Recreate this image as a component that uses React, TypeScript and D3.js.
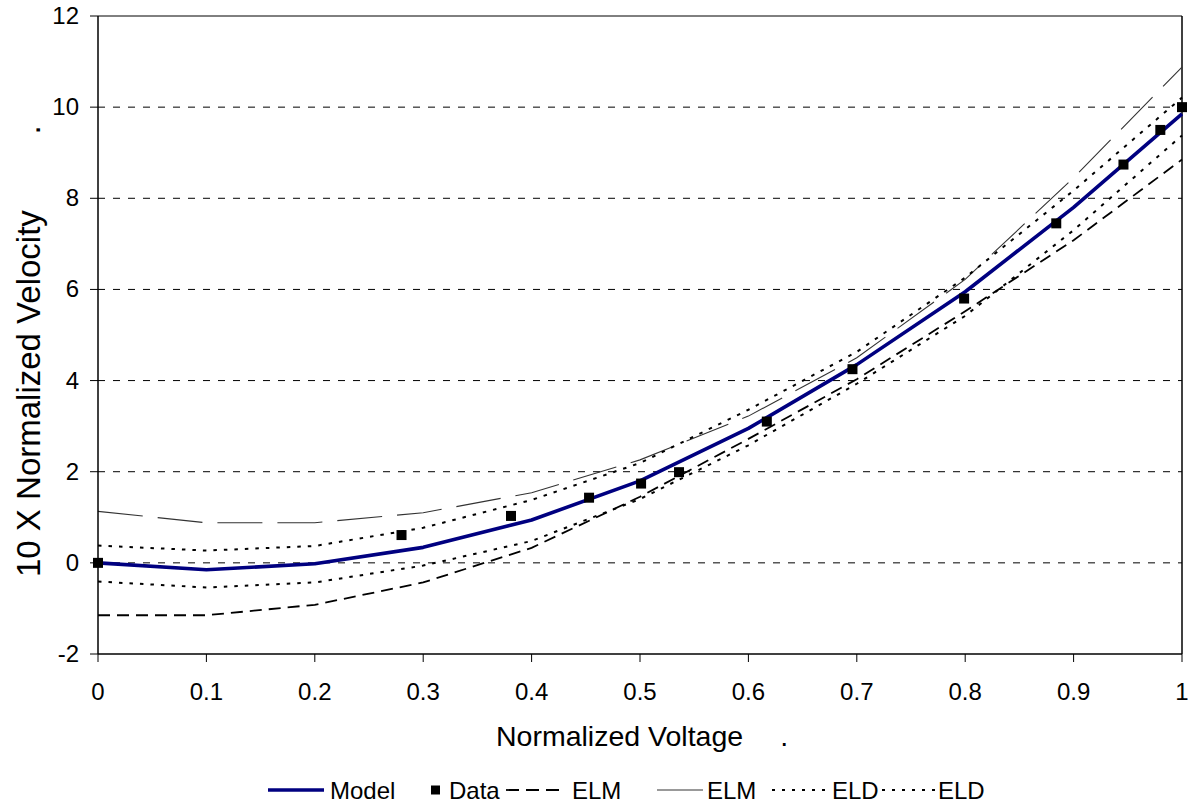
import React from "react";
import * as d3 from "d3";

const xValues = [0, 0.1, 0.2, 0.3, 0.4, 0.5, 0.6, 0.7, 0.8, 0.9, 1.0];
const model = [0, -0.15, -0.02, 0.34, 0.94, 1.8, 2.95, 4.35, 5.95, 7.8, 9.85];
const elmLower = [-1.15, -1.15, -0.92, -0.43, 0.33, 1.45, 2.72, 4.03, 5.52, 7.08, 8.85];
const elmUpper = [1.13, 0.88, 0.88, 1.1, 1.54, 2.26, 3.22, 4.5, 6.22, 8.45, 10.88];
const eldUpper = [0.38, 0.27, 0.37, 0.77, 1.38, 2.19, 3.36, 4.63, 6.26, 8.17, 10.21];
const eldLower = [-0.41, -0.54, -0.43, -0.06, 0.48, 1.4, 2.58, 3.93, 5.42, 7.3, 9.38];

const dataX = [0, 0.28, 0.381, 0.453, 0.501, 0.536, 0.617, 0.696, 0.799, 0.884, 0.946, 0.98, 1.0];
const dataY = [0, 0.61, 1.03, 1.43, 1.74, 1.99, 3.1, 4.25, 5.8, 7.45, 8.74, 9.5, 10.0];

const xTicks = [0, 0.1, 0.2, 0.3, 0.4, 0.5, 0.6, 0.7, 0.8, 0.9, 1];
const xTickLabels = ["0", "0.1", "0.2", "0.3", "0.4", "0.5", "0.6", "0.7", "0.8", "0.9", "1"];
const yTicks = [-2, 0, 2, 4, 6, 8, 10, 12];
const gridValues = [0, 2, 4, 6, 8, 10];

const xTitle = "Normalized Voltage";
const yTitle = "10 X Normalized Velocity";
const legendLabels = ["Model", "Data", "ELM", "ELM", "ELD", "ELD"];

const FONT = "'Liberation Sans', Arial, sans-serif";

export default function App() {
  const W = 1188;
  const H = 810;
  const x = d3.scaleLinear().domain([0, 1]).range([98, 1182]);
  const y = d3.scaleLinear().domain([-2, 12]).range([654, 16]);

  const line = d3
    .line<number>()
    .x((_, i) => x(xValues[i]))
    .y((d) => y(d));

  const legendY = 790;
  const ms = 10;

  return (
    <svg
      width={W}
      height={H}
      style={{ position: "absolute", left: 0, top: 0, background: "#fff" }}
      fontFamily={FONT}
    >
      <rect x={0} y={0} width={W} height={H} fill="#fff" />
      {gridValues.map((v) => (
        <line
          key={"g" + v}
          x1={x(0)}
          x2={x(1)}
          y1={y(v)}
          y2={y(v)}
          stroke="#000"
          strokeWidth={1}
          strokeDasharray="7,8"
        />
      ))}
      <line x1={x(0)} x2={x(1)} y1={y(12)} y2={y(12)} stroke="#000" strokeWidth={1} />
      <line x1={x(1)} x2={x(1)} y1={y(12)} y2={y(-2)} stroke="#000" strokeWidth={1.5} />

      <path d={line(elmUpper) || ""} fill="none" stroke="#333" strokeWidth={1.1} strokeDasharray="45,15" />
      <path d={line(elmLower) || ""} fill="none" stroke="#000" strokeWidth={1.8} strokeDasharray="12,7" />
      <path d={line(eldUpper) || ""} fill="none" stroke="#000" strokeWidth={2} strokeDasharray="3.5,7" />
      <path d={line(eldLower) || ""} fill="none" stroke="#000" strokeWidth={2} strokeDasharray="3.5,7" />
      <path d={line(model) || ""} fill="none" stroke="#000080" strokeWidth={3.6} strokeLinejoin="round" />

      {dataX.map((dx, i) => (
        <rect key={"d" + i} x={x(dx) - ms / 2} y={y(dataY[i]) - ms / 2} width={ms} height={ms} fill="#000" />
      ))}

      <line x1={x(0)} x2={x(0)} y1={y(12)} y2={y(-2)} stroke="#000" strokeWidth={1.5} />
      <line x1={x(0)} x2={x(1)} y1={y(-2)} y2={y(-2)} stroke="#000" strokeWidth={1.5} />
      {yTicks.map((v) => (
        <g key={"yt" + v}>
          <line x1={x(0) - 8} x2={x(0)} y1={y(v)} y2={y(v)} stroke="#000" strokeWidth={1} />
          <text x={79} y={y(v) + 8} fontSize={24} textAnchor="end" fill="#000">
            {v}
          </text>
        </g>
      ))}
      {xTicks.map((v, i) => (
        <g key={"xt" + v}>
          <line x1={x(v)} x2={x(v)} y1={y(-2)} y2={y(-2) + 8} stroke="#000" strokeWidth={1} />
          <text x={x(v)} y={700} fontSize={24} textAnchor="middle" fill="#000">
            {xTickLabels[i]}
          </text>
        </g>
      ))}

      <text x={496} y={746} fontSize={28.5} fill="#000">
        {xTitle}
        <tspan dx={37}>.</tspan>
      </text>
      <text transform="translate(40,577) rotate(-90)" x={0} y={0} fontSize={33} fill="#000">
        {yTitle}
        <tspan dx={78}>.</tspan>
      </text>

      <g fontSize={24} fill="#000">
        <line x1={268} x2={324} y1={legendY} y2={legendY} stroke="#000080" strokeWidth={3.5} />
        <text x={330} y={legendY + 9}>{legendLabels[0]}</text>
        <rect x={431} y={legendY - 4.5} width={9} height={9} fill="#000" />
        <text x={449} y={legendY + 9}>{legendLabels[1]}</text>
        <line x1={506} x2={559} y1={legendY} y2={legendY} stroke="#000" strokeWidth={1.8} strokeDasharray="13,7" />
        <text x={572} y={legendY + 9}>{legendLabels[2]}</text>
        <line x1={657} x2={703} y1={legendY} y2={legendY} stroke="#777" strokeWidth={1.5} />
        <text x={707} y={legendY + 9}>{legendLabels[3]}</text>
        <line x1={772} x2={830} y1={legendY} y2={legendY} stroke="#000" strokeWidth={2} strokeDasharray="3,7" />
        <text x={832} y={legendY + 9}>{legendLabels[4]}</text>
        <line x1={882} x2={936} y1={legendY} y2={legendY} stroke="#000" strokeWidth={2} strokeDasharray="3,7" />
        <text x={938} y={legendY + 9}>{legendLabels[5]}</text>
      </g>
    </svg>
  );
}
